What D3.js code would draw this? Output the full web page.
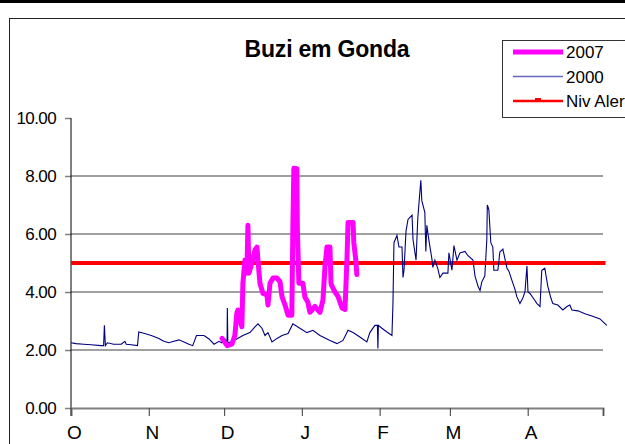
<!DOCTYPE html>
<html><head><meta charset="utf-8">
<script src="https://cdn.jsdelivr.net/npm/d3@7"></script>
<style>
body{margin:0;background:#fff;}
svg{display:block;font-family:"Liberation Sans",Arial,sans-serif;}
</style></head>
<body>
<script>
// Month boundaries (days since 1 Oct) and labels
const monthStarts = [0, 31, 61, 92, 123, 151, 182, 212];
const monthLabels = ["O", "N", "D", "J", "F", "M", "A", ""];
const yTicks = [0, 2, 4, 6, 8, 10];
const alertLevel = 5.0;
const alertRange = [0, 213];

// Series 2000 (day since 1 Oct, level m)
const days2000 = [0,2,5,8,12,13,13.3,13.7,14.5,17,20,21.5,22,24,26.5,27,29,32,35,37,39,41,43,45,47,48.5,50,53,55,57,59,60,61.4,62.2,62.3,62.5,64.5,68.5,71.3,73.3,74.5,76.1,77.3,78.5,80.1,82.1,84.1,86.5,88.4,91.2,94,96.4,99.2,103.2,106,108.4,110.4,112.4,115.1,117.9,119.1,121.1,122.1,122.3,122.5,123.9,125.9,127.9,128.3,128.7,129.9,130.7,131.9,132.3,132.7,133.5,134.3,135.9,136.3,137.5,138.2,139.4,139.8,141,141.4,141.8,142.6,143.8,144.2,145,146.2,147,148.2,150.2,150.6,151.8,152.6,153.8,155,157,158.2,160.2,161,162.2,163,163.7,164.9,165.7,165.9,166.5,167.3,168.1,168.5,170.1,170.9,172.1,173.7,174.5,175.7,176.9,177.7,178.9,180.1,180.9,181.7,182.1,182.9,184.1,185.7,186.9,187.6,188.8,190,191.2,192,194,196,197.6,198.8,199.6,202,204.8,207.6,210.8,213.5];
const vals2000 = [2.25,2.22,2.2,2.18,2.15,2.15,2.85,2.15,2.25,2.2,2.2,2.3,2.2,2.18,2.15,2.62,2.58,2.5,2.4,2.3,2.25,2.3,2.35,2.28,2.2,2.15,2.5,2.5,2.38,2.2,2.3,2.25,2.38,2.3,3.45,2.25,2.3,2.5,2.6,2.8,2.9,2.75,2.5,2.6,2.28,2.4,2.5,2.57,2.9,2.75,2.6,2.68,2.5,2.33,2.22,2.33,2.68,2.6,2.45,2.28,2.6,2.85,2.85,2.05,2.85,2.75,2.62,2.5,3.6,5.7,5.95,5.55,5.55,4.5,4.75,6.1,6.5,6.65,5.8,5.1,6.55,7.85,7.15,6.75,5.4,6.3,5.8,5.15,4.85,5.1,4.8,4.5,4.65,4.65,5.35,4.75,5.6,5.1,5.35,5.4,5.25,5.1,4.55,4.2,4.05,4.35,4.55,5.8,7.0,6.85,5.7,5.55,4.75,4.75,5.38,5.48,4.83,4.72,4.4,4.1,3.83,3.6,3.8,4.0,4.9,4.0,3.95,3.8,3.6,3.5,4.75,4.82,4.2,3.8,3.6,3.55,3.38,3.5,3.55,3.38,3.35,3.25,3.17,3.07,2.85];

// Series 2007
const days2007 = [60.2,62.2,64.1,65.3,66.1,66.5,67.3,68.1,68.5,69.3,70.1,70.5,70.9,72.1,73.3,74.1,74.5,75.3,76.5,78.1,78.5,79.3,80.5,82.1,83.3,84.1,85.3,86.5,88.0,88.4,88.8,90,90.2,90.8,92.4,93.2,94.4,95.2,97.2,99.2,100.4,101.2,102,103.2,103.6,104,105.2,106.4,108,109.2,110,110.4,112.4,112.7,113.5,113.9];
const vals2007 = [2.4,2.15,2.2,2.5,3.28,3.38,3.05,2.8,4.3,5.1,4.65,6.3,4.65,5.0,5.45,5.55,5.1,4.3,3.95,3.9,3.55,4.3,4.48,4.48,4.35,3.83,3.55,3.2,3.2,6.15,8.27,8.25,6.2,4.3,4.3,3.83,3.65,3.3,3.5,3.3,3.72,4.86,5.55,5.55,4.3,4.2,4.0,3.85,3.45,3.4,5.2,6.4,6.4,5.7,5.1,4.6];

const legendItems = ["2007", "2000", "Niv Alert"];

const W = 625, H = 444;
const svg = d3.select("body").append("svg").attr("width", W).attr("height", H);

// top rule and chart frame
svg.append("rect").attr("x", 0).attr("y", 0).attr("width", W).attr("height", 3).attr("fill", "#000");
svg.append("rect").attr("x", 9.5).attr("y", 18.5).attr("width", 700).attr("height", 500)
  .attr("fill", "none").attr("stroke", "#222").attr("stroke-width", 1);

const x = d3.scaleLinear().domain([0, 212]).range([71, 603]);
const y = d3.scaleLinear().domain([0, 10]).range([408, 118]);

// grid lines
svg.append("g").selectAll("line").data(yTicks.filter(d => d > 0 && d < 10)).join("line")
  .attr("x1", x(0)).attr("x2", x(212)).attr("y1", d => y(d)).attr("y2", d => y(d))
  .attr("stroke", "#808080").attr("stroke-width", 1.6);

// y axis
const yAxis = svg.append("g").attr("transform", `translate(${x(0)},0)`)
  .call(d3.axisLeft(y).tickValues(yTicks).tickSize(6).tickPadding(9).tickFormat(d3.format(".2f")));
yAxis.select(".domain").remove();
yAxis.selectAll(".tick line").attr("stroke", "#808080").attr("stroke-width", 1.5);
yAxis.selectAll("text").attr("font-size", 17).attr("fill", "#000").attr("letter-spacing", -0.6)
  .attr("font-family", "Liberation Sans, Arial, sans-serif");
svg.append("line").attr("x1", x(0)).attr("x2", x(0)).attr("y1", y(10)).attr("y2", y(0) + 8)
  .attr("stroke", "#000").attr("stroke-width", 1);

// x axis
const xAxis = svg.append("g").attr("transform", `translate(0,${y(0)})`)
  .call(d3.axisBottom(x).tickValues(monthStarts).tickSize(8).tickPadding(10)
    .tickFormat((d, i) => monthLabels[i]));
xAxis.select(".domain").attr("stroke", "#808080").attr("stroke-width", 2);
xAxis.selectAll(".tick line").attr("stroke", "#555").attr("stroke-width", 1.2);
xAxis.selectAll("text").attr("font-size", 19).attr("fill", "#000").attr("dx", 3)
  .attr("font-family", "Liberation Sans, Arial, sans-serif");

// alert level
svg.append("line").attr("x1", x(alertRange[0])).attr("x2", x(alertRange[1]))
  .attr("y1", y(alertLevel)).attr("y2", y(alertLevel))
  .attr("stroke", "#ff0000").attr("stroke-width", 4);

// 2000 series
const line = d3.line().x(d => x(d[0])).y(d => y(d[1]));
svg.append("path").datum(d3.zip(days2000, vals2000)).attr("d", line)
  .attr("fill", "none").attr("stroke", "#000080").attr("stroke-width", 1.1);

// 2007 series
svg.append("path").datum(d3.zip(days2007, vals2007)).attr("d", line)
  .attr("fill", "none").attr("stroke", "#ff00ff").attr("stroke-width", 5)
  .attr("stroke-linejoin", "round").attr("stroke-linecap", "round");

// title
svg.append("text").attr("x", 327).attr("y", 57).attr("text-anchor", "middle")
  .attr("font-size", 23).attr("font-weight", "bold").attr("letter-spacing", -0.2)
  .text("Buzi em Gonda");

// legend
const lg = svg.append("g");
lg.append("rect").attr("x", 502.5).attr("y", 40.5).attr("width", 200).attr("height", 77)
  .attr("fill", "#fff").attr("stroke", "#333").attr("stroke-width", 1);
const lstyles = [{c: "#ff00ff", w: 5}, {c: "#6666bb", w: 1.5}, {c: "#ff0000", w: 2.5}];
legendItems.forEach((t, i) => {
  const ly = 52 + i * 24.5;
  lg.append("line").attr("x1", 513).attr("x2", 563).attr("y1", ly).attr("y2", ly)
    .attr("stroke", lstyles[i].c).attr("stroke-width", lstyles[i].w);
  if (i === 2) lg.append("rect").attr("x", 535).attr("y", ly - 3).attr("width", 6).attr("height", 4).attr("fill", "#ff0000");
  lg.append("text").attr("x", 566).attr("y", ly + 6).attr("font-size", 17).text(t);
});
</script>
</body></html>
